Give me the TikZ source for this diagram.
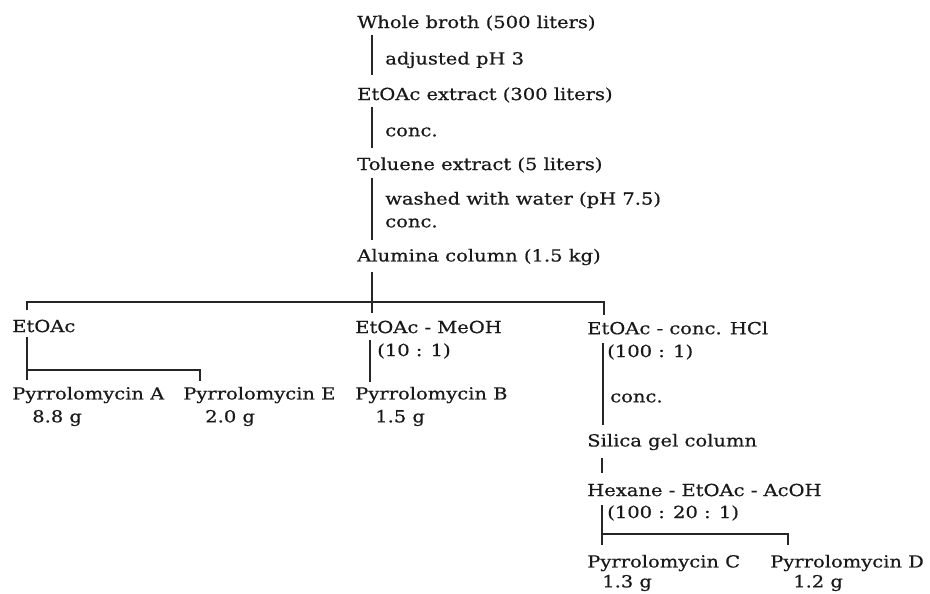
\documentclass[tikz,border=0pt]{standalone}
\usepackage{fontspec}
\setmainfont[FakeStretch=1.17,FakeBold=0.6]{DejaVu Serif}
\begin{document}
\begin{tikzpicture}[x=0.75pt,y=-0.75pt,
  lbl/.style={anchor=west,inner sep=0pt,font=\fontsize{12.5}{15}\selectfont,text=black!90},
  ln/.style={line width=1.3pt,black!85}]
\useasboundingbox (0,0) rectangle (930,593);
% main chain
\node[lbl] (broth) at (357,23) {Whole broth (500 liters)};
\node[lbl] (adj) at (385,60) {adjusted pH 3};
\node[lbl] (etx) at (357,95) {EtOAc extract (300 liters)};
\node[lbl] (conc1) at (385,132) {conc.};
\node[lbl] (tol) at (357,165) {Toluene extract (5 liters)};
\node[lbl] (wash) at (385,200) {washed with water (pH 7.5)};
\node[lbl] (conc2) at (385,223) {conc.};
\node[lbl] (alu) at (357,257) {Alumina column (1.5 kg)};
% branches
\node[lbl] (ea) at (12,326) {EtOAc};
\node[lbl] (em) at (355,327) {EtOAc - MeOH};
\node[lbl] (r1) at (377,351) {(10 : 1)};
\node[lbl] (eh) at (587,328) {EtOAc - conc. HCl};
\node[lbl] (r2) at (607,352) {(100 : 1)};
\node[lbl] (conc3) at (610,398) {conc.};
\node[lbl] (sil) at (587,442) {Silica gel column};
\node[lbl] (hex) at (587,490) {Hexane - EtOAc - AcOH};
\node[lbl] (r3) at (607,513) {(100 : 20 : 1)};
% products
\node[lbl] (pa) at (12,395) {Pyrrolomycin A};
\node[lbl] (ga) at (32,418) {8.8 g};
\node[lbl] (pe) at (183,395) {Pyrrolomycin E};
\node[lbl] (ge) at (205,418) {2.0 g};
\node[lbl] (pb) at (355,395) {Pyrrolomycin B};
\node[lbl] (gb) at (375,418) {1.5 g};
\node[lbl] (pc) at (587,563) {Pyrrolomycin C};
\node[lbl] (gc) at (602,583) {1.3 g};
\node[lbl] (pd) at (770,563) {Pyrrolomycin D};
\node[lbl] (gd) at (793,583) {1.2 g};
% junction coordinates
\coordinate (b1) at (372,35);  \coordinate (b2) at (372,75);
\coordinate (e1) at (372,107); \coordinate (e2) at (372,148);
\coordinate (t1) at (372,178); \coordinate (t2) at (372,240);
\coordinate (a1) at (372,272); \coordinate (a2) at (372,313);
\coordinate (hL) at (27,302);  \coordinate (hR) at (604,302);
\coordinate (hL2) at (27,310); \coordinate (hR2) at (604,315);
\coordinate (ea1) at (27,337); \coordinate (ea2) at (27,380);
\coordinate (eaR) at (200,370); \coordinate (eaR2) at (200,381);
\coordinate (em1) at (370,340); \coordinate (em2) at (370,382);
\coordinate (eh1) at (603,343); \coordinate (eh2) at (603,425);
\coordinate (s1) at (602,458);  \coordinate (s2) at (602,473);
\coordinate (x1) at (602,505);  \coordinate (x2) at (602,545);
\coordinate (xR) at (788,534);  \coordinate (xR2) at (788,545);
% connectors
\draw[ln] (b1) -- (b2);
\draw[ln] (e1) -- (e2);
\draw[ln] (t1) -- (t2);
\draw[ln] (a1) -- (a2);
\draw[ln] (hL2) -- (hL) -- (hR) -- (hR2);
\draw[ln] (ea1) -- (ea2);
\draw[ln] (ea1 |- eaR) -- (eaR) -- (eaR2);
\draw[ln] (em1) -- (em2);
\draw[ln] (eh1) -- (eh2);
\draw[ln] (s1) -- (s2);
\draw[ln] (x1) -- (x2);
\draw[ln] (x1 |- xR) -- (xR) -- (xR2);
\end{tikzpicture}
\end{document}
